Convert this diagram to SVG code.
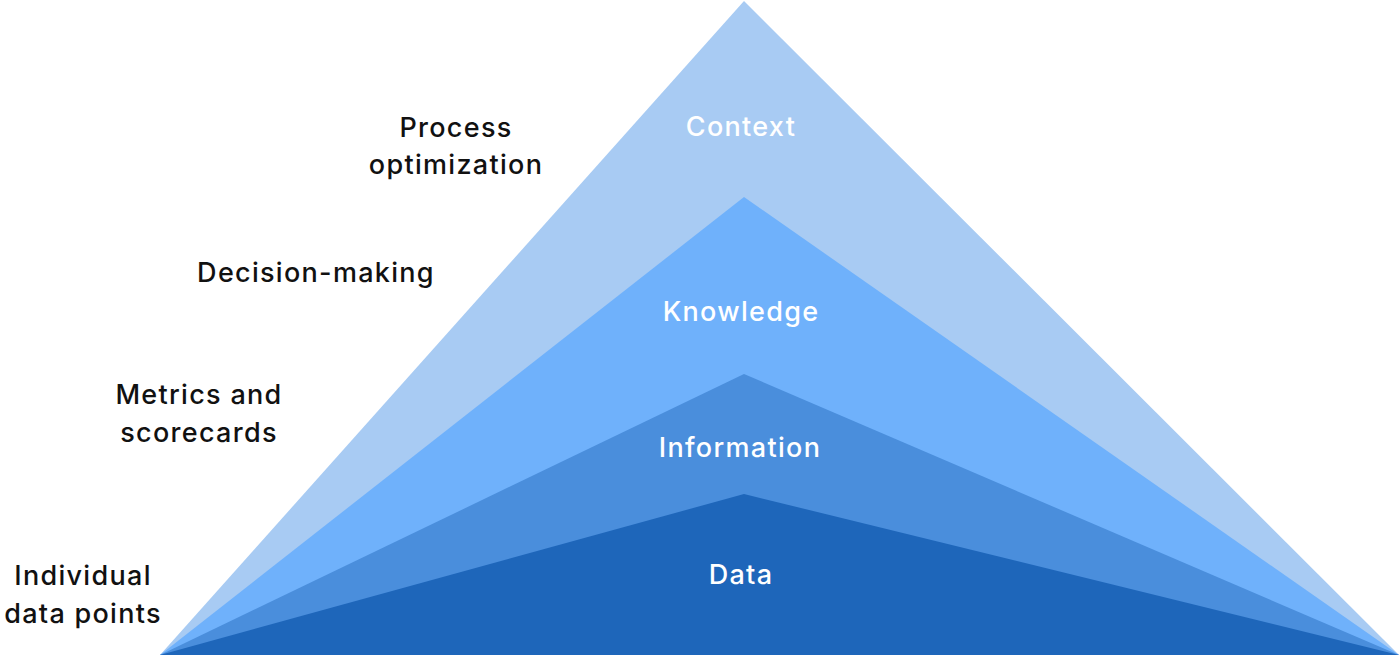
<svg xmlns="http://www.w3.org/2000/svg" width="1400" height="657" viewBox="0 0 1400 657">
<style>
text{font-family:"Inter","Noto Sans","DejaVu Sans",sans-serif;font-size:27px;font-weight:500;letter-spacing:1.3px;text-anchor:middle}
.lbl{fill:#111111}
.in{fill:#ffffff}
</style>
<rect width="1400" height="657" fill="#ffffff"/>
<g id="context"><polygon points="744,1 1399,655 160,655" fill="#A8CBF3"/><text class="in" x="741" y="136">Context</text></g>
<g id="knowledge"><polygon points="744,197 1399,655 160,655" fill="#6FB1FB"/><text class="in" x="741" y="321">Knowledge</text></g>
<g id="information"><polygon points="744,374 1399,655 160,655" fill="#4A8EDC"/><text class="in" x="740" y="457">Information</text></g>
<g id="data"><polygon points="744,494 1399,655 160,655" fill="#1E66BA"/><text class="in" x="741" y="584">Data</text></g>
<g id="process-optimization"><text class="lbl" x="456" y="137">Process</text><text class="lbl" x="456" y="174">optimization</text></g>
<g id="decision-making"><text class="lbl" x="316" y="282">Decision-making</text></g>
<g id="metrics"><text class="lbl" x="199" y="404">Metrics and</text><text class="lbl" x="199" y="442">scorecards</text></g>
<g id="individual"><text class="lbl" x="83" y="585">Individual</text><text class="lbl" x="83" y="623">data points</text></g>
<g id="connectors"></g>
</svg>
